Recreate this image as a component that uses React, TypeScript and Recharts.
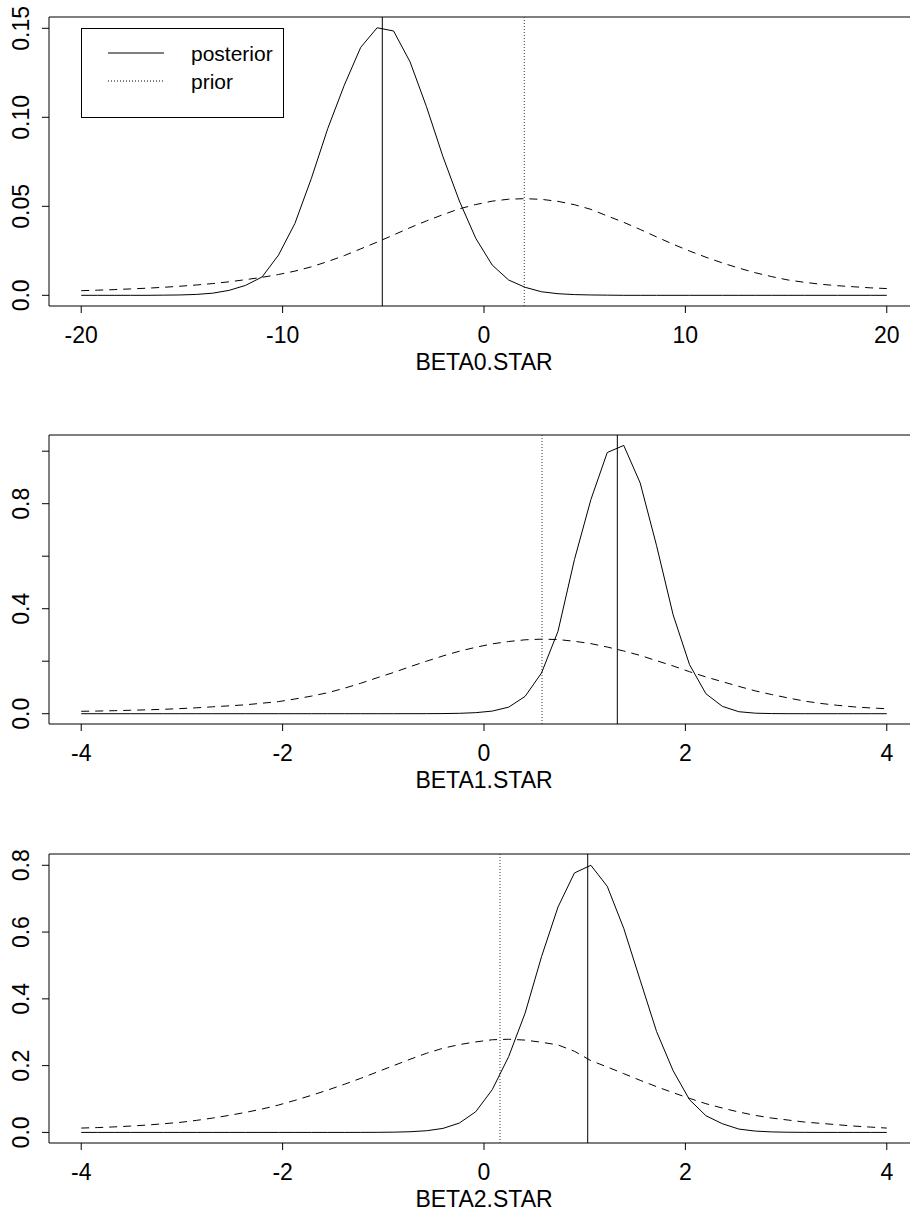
import { LineChart, Line, XAxis, YAxis, ReferenceLine, ReferenceArea, Legend } from 'recharts';

// grid of the density evaluations (50 points each)
const X_WIDE = [-20.0, -19.184, -18.367, -17.551, -16.735, -15.918, -15.102, -14.286, -13.469, -12.653, -11.837, -11.02, -10.204, -9.388, -8.571, -7.755, -6.939, -6.122, -5.306, -4.49, -3.673, -2.857, -2.041, -1.224, -0.408, 0.408, 1.224, 2.041, 2.857, 3.673, 4.49, 5.306, 6.122, 6.939, 7.755, 8.571, 9.388, 10.204, 11.02, 11.837, 12.653, 13.469, 14.286, 15.102, 15.918, 16.735, 17.551, 18.367, 19.184, 20.0];
const X_NARROW = [-4.0, -3.837, -3.673, -3.51, -3.347, -3.184, -3.02, -2.857, -2.694, -2.531, -2.367, -2.204, -2.041, -1.878, -1.714, -1.551, -1.388, -1.224, -1.061, -0.898, -0.735, -0.571, -0.408, -0.245, -0.082, 0.082, 0.245, 0.408, 0.571, 0.735, 0.898, 1.061, 1.224, 1.388, 1.551, 1.714, 1.878, 2.041, 2.204, 2.367, 2.531, 2.694, 2.857, 3.02, 3.184, 3.347, 3.51, 3.673, 3.837, 4.0];

const POST0 = [0, 0, 0, 0, 0, 0.0001, 0.0002, 0.0005, 0.0012, 0.0028, 0.0056, 0.0103, 0.0226, 0.0404, 0.0657, 0.0938, 0.118, 0.1393, 0.1503, 0.1485, 0.1312, 0.106, 0.078, 0.053, 0.032, 0.017, 0.0086, 0.0045, 0.002, 0.0009, 0.0004, 0.0002, 0.0001, 0, 0, 0, 0, 0, 0, 0, 0, 0, 0, 0, 0, 0, 0, 0, 0, 0];
const PRIOR0 = [0.0026, 0.0029, 0.0032, 0.0036, 0.004, 0.0045, 0.0051, 0.0058, 0.0066, 0.0076, 0.0088, 0.0101, 0.0117, 0.0136, 0.016, 0.019, 0.0223, 0.0261, 0.0299, 0.0339, 0.038, 0.0418, 0.0453, 0.0486, 0.051, 0.0529, 0.054, 0.0543, 0.0539, 0.0528, 0.0509, 0.0483, 0.0446, 0.041, 0.037, 0.0328, 0.0287, 0.0249, 0.0214, 0.0182, 0.0153, 0.0127, 0.0105, 0.0086, 0.0073, 0.0062, 0.0054, 0.0048, 0.0042, 0.0038];

const POST1 = [0, 0, 0, 0, 0, 0, 0, 0, 0, 0, 0, 0, 0, 0, 0, 0, 0, 0, 0, 0, 0.0001, 0.0002, 0.0005, 0.0015, 0.004, 0.01, 0.025, 0.066, 0.155, 0.314, 0.587, 0.815, 0.995, 1.022, 0.879, 0.64, 0.377, 0.187, 0.076, 0.028, 0.0076, 0.002, 0.0005, 0.0001, 0, 0, 0, 0, 0, 0];
const PRIOR1 = [0.0092, 0.0101, 0.0115, 0.0131, 0.0148, 0.0168, 0.0194, 0.0225, 0.0263, 0.03, 0.034, 0.04, 0.046, 0.056, 0.067, 0.08, 0.097, 0.116, 0.137, 0.157, 0.179, 0.2, 0.22, 0.238, 0.253, 0.266, 0.275, 0.2815, 0.284, 0.2825, 0.276, 0.267, 0.254, 0.239, 0.222, 0.202, 0.182, 0.16, 0.14, 0.122, 0.104, 0.087, 0.073, 0.06, 0.048, 0.039, 0.032, 0.026, 0.022, 0.019];

const POST2 = [0, 0, 0, 0, 0, 0, 0, 0, 0, 0, 0, 0, 0, 0, 0, 0, 0, 0.0001, 0.0003, 0.0008, 0.002, 0.005, 0.012, 0.028, 0.062, 0.128, 0.227, 0.357, 0.526, 0.675, 0.777, 0.8, 0.737, 0.611, 0.456, 0.302, 0.185, 0.098, 0.05, 0.026, 0.01, 0.004, 0.0015, 0.0005, 0.0002, 0, 0, 0, 0, 0];
const PRIOR2 = [0.013, 0.0145, 0.0165, 0.019, 0.022, 0.026, 0.03, 0.036, 0.043, 0.051, 0.06, 0.07, 0.082, 0.096, 0.111, 0.127, 0.144, 0.162, 0.181, 0.2, 0.219, 0.237, 0.252, 0.263, 0.271, 0.2775, 0.279, 0.2765, 0.27, 0.262, 0.243, 0.215, 0.196, 0.176, 0.156, 0.137, 0.119, 0.102, 0.086, 0.073, 0.061, 0.051, 0.043, 0.037, 0.031, 0.027, 0.023, 0.019, 0.016, 0.013];

// vertical marks: posterior (solid) and prior (dotted)
const POST_MARK = [-5.05, 1.324, 1.03];
const PRIOR_MARK = [2.0, 0.576, 0.159];

const TITLES = ['BETA0.STAR', 'BETA1.STAR', 'BETA2.STAR'];
const X_TICKS_WIDE = [-20, -10, 0, 10, 20];
const X_TICKS_NARROW = [-4, -2, 0, 2, 4];
const Y_TICKS = [[0, 0.05, 0.1, 0.15], [0, 0.2, 0.4, 0.6, 0.8, 1.0], [0, 0.2, 0.4, 0.6, 0.8]];
const Y_LABELS = [['0.0', '0.05', '0.10', '0.15'], ['0.0', '', '0.4', '', '0.8', ''], ['0.0', '0.2', '0.4', '0.6', '0.8']];
const LEGEND_NAMES = ['posterior', 'prior'];

const FONT = '"Liberation Sans", Arial, Helvetica, sans-serif';
const PLOT_H = 289;
const MARGIN_TOP = 10;

const panels = [
  { x: X_WIDE, post: POST0, prior: PRIOR0, xDomain: [-21.6, 21.6], xTicks: X_TICKS_WIDE, yDomain: [-0.006, 0.15635], top: 17 },
  { x: X_NARROW, post: POST1, prior: PRIOR1, xDomain: [-4.32, 4.32], xTicks: X_TICKS_NARROW, yDomain: [-0.0392, 1.0617], top: 435 },
  { x: X_NARROW, post: POST2, prior: PRIOR2, xDomain: [-4.32, 4.32], xTicks: X_TICKS_NARROW, yDomain: [-0.0317, 0.8338], top: 854 },
];

const renderLegend = () => (
  <svg width={204} height={91}>
    <rect x={0.5} y={0.5} width={202} height={89} fill="#fff" stroke="#000" strokeWidth={1} />
    <line x1={27} x2={83} y1={25} y2={25} stroke="#000" strokeWidth={1} />
    <line x1={27} x2={83} y1={53} y2={53} stroke="#000" strokeWidth={1} strokeDasharray="1 2" />
    <text x={110} y={33} fontSize={21} fontFamily={FONT} fill="#000">{LEGEND_NAMES[0]}</text>
    <text x={110} y={61} fontSize={21} fontFamily={FONT} fill="#000">{LEGEND_NAMES[1]}</text>
  </svg>
);

const Panel = ({ idx }: { idx: number }) => {
  const p = panels[idx];
  const data = p.x.map((x, i) => ({ x, post: p.post[i], prior: p.prior[i] }));
  const bottom = MARGIN_TOP + PLOT_H;

  const xTick = (props: any) => {
    const v = props.payload.value;
    return (
      <text x={props.x} y={bottom + 37} textAnchor="middle" fontSize={23} fontFamily={FONT} fill="#000">
        {String(v)}
      </text>
    );
  };

  const yTick = (props: any) => {
    const i = Y_TICKS[idx].indexOf(props.payload.value);
    const label = Y_LABELS[idx][i] || '';
    return (
      <text
        x={29.5}
        y={props.y}
        transform={`rotate(-90 29.5 ${props.y})`}
        textAnchor="middle"
        fontSize={23}
        fontFamily={FONT}
        fill="#000"
      >
        {label}
      </text>
    );
  };

  const title = () => (
    <text x={484} y={bottom + 64} textAnchor="middle" fontSize={23} fontFamily={FONT} fill="#000">
      {TITLES[idx]}
    </text>
  );

  return (
    <div style={{ position: 'absolute', left: 0, top: p.top - MARGIN_TOP }}>
      <LineChart width={921} height={MARGIN_TOP + PLOT_H + 80} data={data} margin={{ top: MARGIN_TOP, right: 2, bottom: 0, left: 0 }}>
        <XAxis
          dataKey="x"
          type="number"
          domain={p.xDomain}
          allowDataOverflow
          ticks={p.xTicks}
          interval={0}
          height={80}
          tickSize={7}
          axisLine={false}
          tickLine={{ stroke: '#000' }}
          tick={xTick}
          label={title}
        />
        <YAxis
          type="number"
          domain={p.yDomain}
          allowDataOverflow
          ticks={Y_TICKS[idx]}
          interval={0}
          width={49}
          tickSize={7}
          axisLine={false}
          tickLine={{ stroke: '#000' }}
          tick={yTick}
        />
        <ReferenceArea
          x1={p.xDomain[0]}
          x2={p.xDomain[1]}
          y1={p.yDomain[0]}
          y2={p.yDomain[1]}
          fill="none"
          fillOpacity={0}
          stroke="#000"
          strokeWidth={1}
          ifOverflow="visible"
        />
        <ReferenceLine x={POST_MARK[idx]} stroke="#000" strokeWidth={1} />
        <ReferenceLine x={PRIOR_MARK[idx]} stroke="#333" strokeWidth={1} strokeDasharray="1 2" />
        <Line
          type="linear"
          dataKey="post"
          name={LEGEND_NAMES[0]}
          stroke="#000"
          strokeWidth={1}
          dot={false}
          activeDot={false}
          isAnimationActive={false}
        />
        <Line
          type="linear"
          dataKey="prior"
          name={LEGEND_NAMES[1]}
          stroke="#000"
          strokeWidth={1}
          strokeDasharray="8 6"
          dot={false}
          activeDot={false}
          isAnimationActive={false}
        />
        {idx === 0 && (
          <Legend
            layout="horizontal"
            verticalAlign="middle"
            align="center"
            content={renderLegend}
            wrapperStyle={{ left: 81, top: 28 - (p.top - MARGIN_TOP), width: 204, height: 91 }}
          />
        )}
      </LineChart>
    </div>
  );
};

const App = () => (
  <div style={{ position: 'absolute', left: 0, top: 0, width: 910, height: 1215, overflow: 'hidden', background: '#fff' }}>
    {panels.map((_, i) => (
      <Panel key={i} idx={i} />
    ))}
  </div>
);

export default App;
